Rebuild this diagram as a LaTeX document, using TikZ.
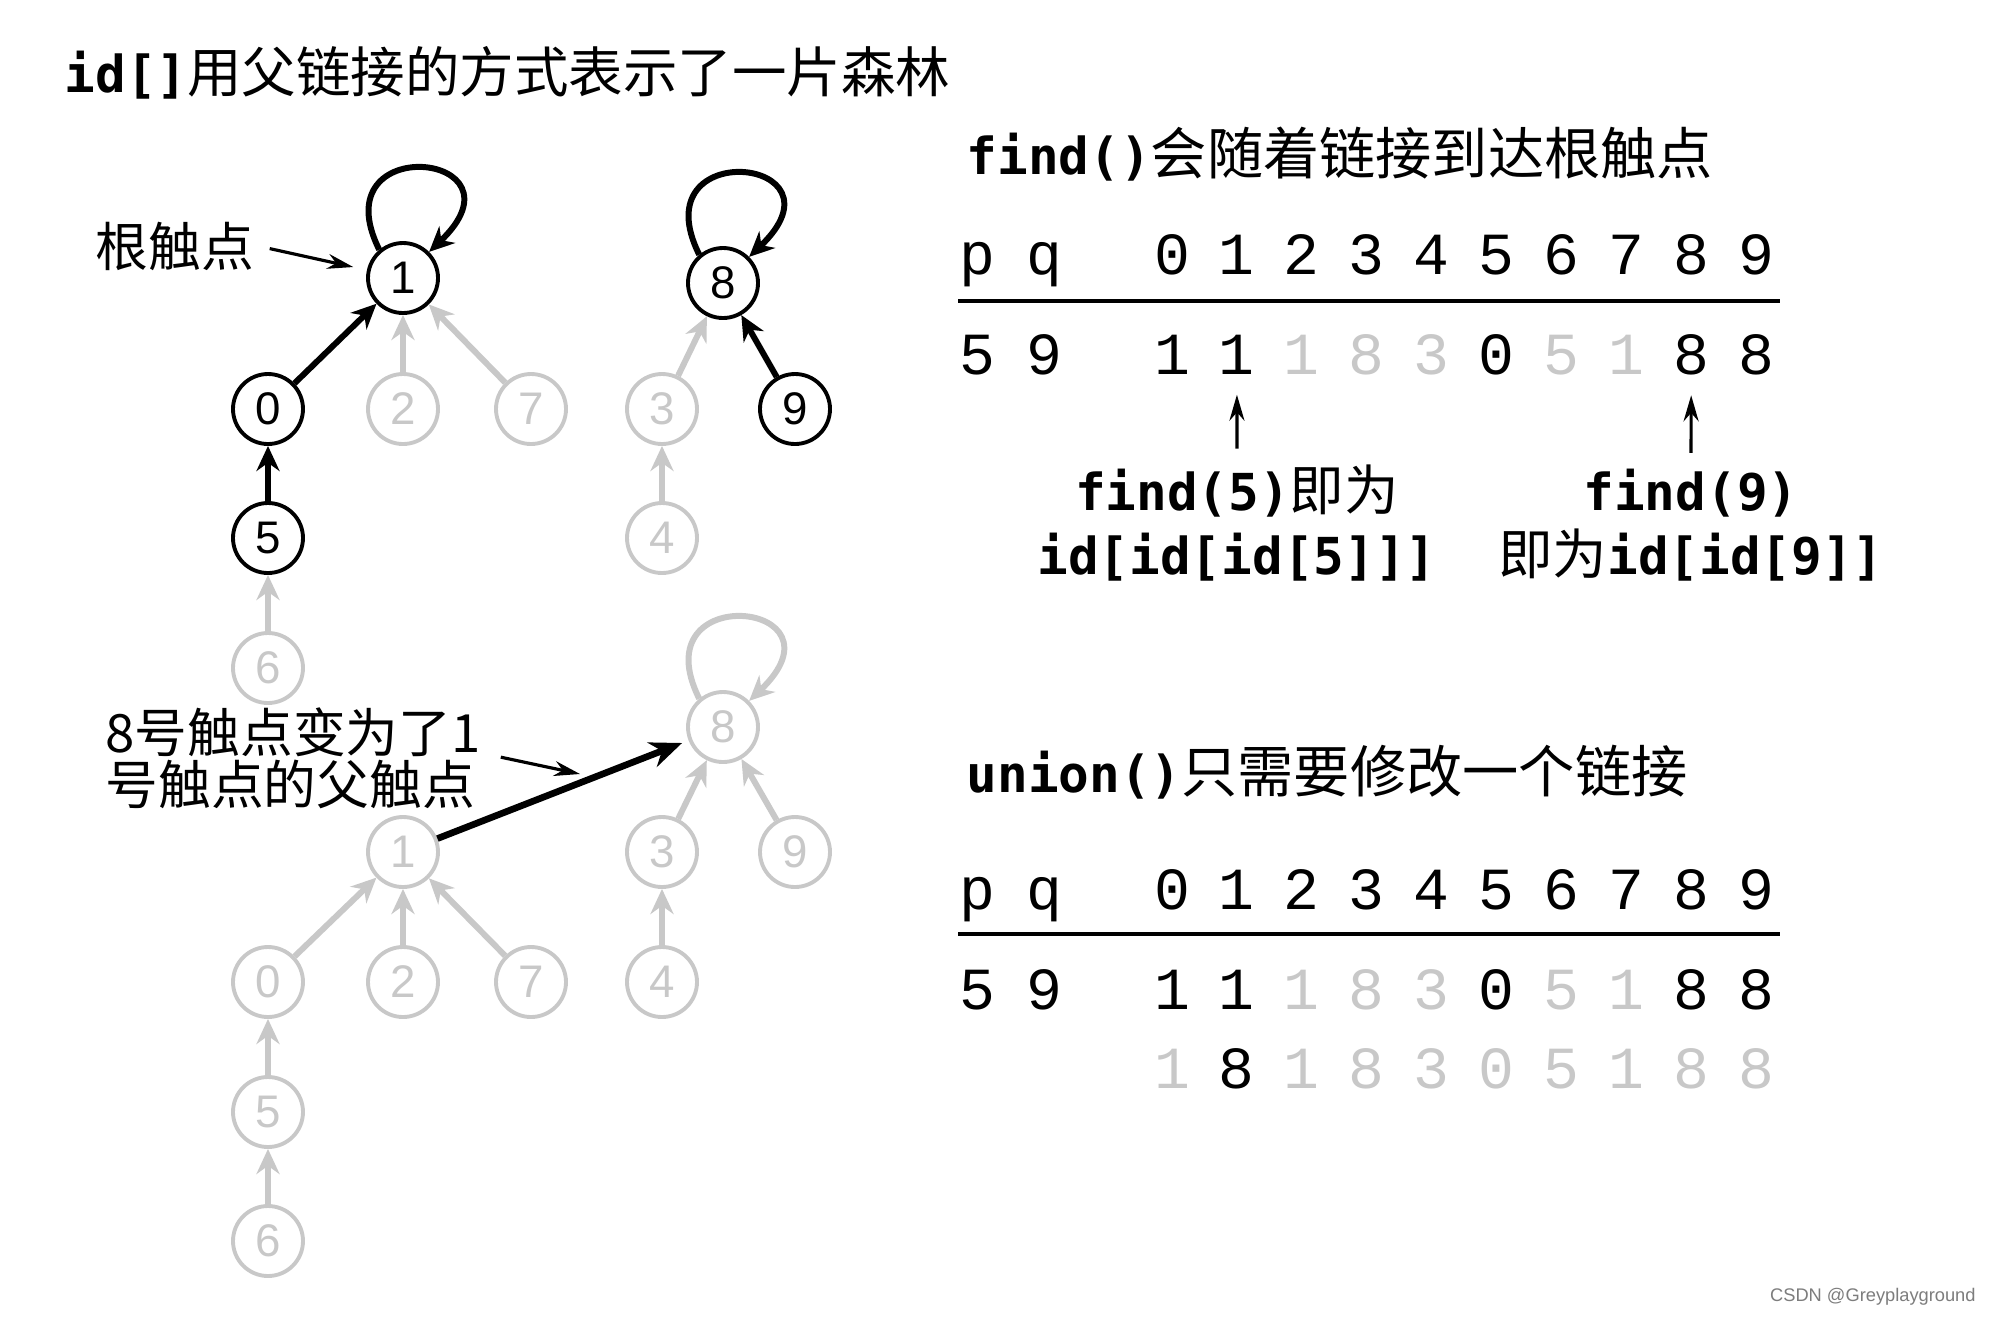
\documentclass[tikz,border=0pt]{standalone}
\usepackage{fontspec}
\setmainfont{Liberation Sans}
\newfontfamily\cjk{Noto Sans CJK SC}
\newfontfamily\codefont{DejaVu Sans Mono}
\newfontfamily\digitfont{Liberation Mono}
\definecolor{lite}{RGB}{200,200,200}
\definecolor{wmark}{RGB}{125,125,125}
\usetikzlibrary{arrows.meta, positioning}
\newcommand{\code}[1]{{\codefont\bfseries\fontsize{14.5}{17}\selectfont #1}}

\begin{document}
\begin{tikzpicture}[
  vtx/.style={circle, draw, line width=1.1pt, minimum size=7mm, inner sep=0pt, font=\fontsize{13}{13}\selectfont},
  dim/.style={draw=lite, text=lite},
  lnk/.style={-{Stealth[length=2.5mm,width=2.3mm]}, line width=1.7pt},
  dimlnk/.style={lnk, draw=lite},
  note/.style={-{Stealth[length=2.6mm,width=1.5mm]}, line width=0.9pt},
  lbl/.style={inner sep=1pt, font=\cjk\fontsize{15}{13}\selectfont},
  head/.style={anchor=base west, inner sep=0pt, font=\cjk\fontsize{16}{20}\selectfont},
  sub/.style={anchor=base, inner sep=0pt, font=\cjk\fontsize{15.5}{18}\selectfont},
  cell/.style={anchor=base, inner sep=0pt, font=\digitfont\fontsize{17}{17}\selectfont},
  rule/.style={line width=1.3pt}
]
  \fill[white] (0,0) rectangle (20,-13.16);

  % titles
  \node[anchor=base west, inner sep=0pt, font=\cjk\fontsize{15.5}{18}\selectfont] (ttl) at (0.64,-0.92)
    {\code{id[]}用父链接的方式表示了一片森林};
  \node[head] (findttl) at (9.66,-1.74) {\code{find()}会随着链接到达根触点};
  \node[head] (unionttl) at (9.66,-7.92) {\code{union()}只需要修改一个链接};

  % forest before union
  \node[vtx] (a1) at (4.03,-2.78) {1};
  \node[vtx] (a0) at (2.68,-4.09) {0};
  \node[vtx, dim] (a2) at (4.03,-4.09) {2};
  \node[vtx, dim] (a7) at (5.31,-4.09) {7};
  \node[vtx] (a5) at (2.68,-5.38) {5};
  \node[vtx, dim] (a6) at (2.68,-6.68) {6};
  \node[vtx] (a8) at (7.23,-2.83) {8};
  \node[vtx, dim] (a3) at (6.62,-4.09) {3};
  \node[vtx] (a9) at (7.95,-4.09) {9};
  \node[vtx, dim] (a4) at (6.62,-5.38) {4};

  \draw[lnk] (a1.130) .. controls +(-0.6,1.2) and +(1.05,1.0) .. (a1.45);
  \draw[lnk] (a8.130) .. controls +(-0.6,1.2) and +(1.05,1.0) .. (a8.45);
  \draw[lnk] (a0) -- (a1);
  \draw[dimlnk] (a2) -- (a1);
  \draw[dimlnk] (a7) -- (a1);
  \draw[lnk] (a5) -- (a0);
  \draw[dimlnk] (a6) -- (a5);
  \draw[dimlnk] (a3) -- (a8);
  \draw[lnk] (a9) -- (a8);
  \draw[dimlnk] (a4) -- (a3);

  % forest after union
  \node[vtx, dim] (b8) at (7.23,-7.27) {8};
  \node[vtx, dim] (b1) at (4.03,-8.52) {1};
  \node[vtx, dim] (b3) at (6.62,-8.52) {3};
  \node[vtx, dim] (b9) at (7.95,-8.52) {9};
  \node[vtx, dim] (b0) at (2.68,-9.82) {0};
  \node[vtx, dim] (b2) at (4.03,-9.82) {2};
  \node[vtx, dim] (b7) at (5.31,-9.82) {7};
  \node[vtx, dim] (b4) at (6.62,-9.82) {4};
  \node[vtx, dim] (b5) at (2.68,-11.12) {5};
  \node[vtx, dim] (b6) at (2.68,-12.41) {6};

  \draw[dimlnk] (b8.130) .. controls +(-0.6,1.2) and +(1.05,1.0) .. (b8.45);
  \draw[dimlnk] (b3) -- (b8);
  \draw[dimlnk] (b9) -- (b8);
  \draw[dimlnk] (b0) -- (b1);
  \draw[dimlnk] (b2) -- (b1);
  \draw[dimlnk] (b7) -- (b1);
  \draw[dimlnk] (b4) -- (b3);
  \draw[dimlnk] (b5) -- (b0);
  \draw[dimlnk] (b6) -- (b5);
  \draw[lnk, line width=1.9pt, -{Stealth[length=3.2mm,width=2.6mm]}, shorten >=0.7mm] (b1) -- (b8);

  % callouts
  \node[lbl, anchor=east] (rootlbl) at (2.58,-2.46) {根触点};
  \draw[note, shorten <=1.2mm, shorten >=1.4mm] (rootlbl.east) -- (a1);
  \node[lbl, anchor=west, align=left, inner sep=0pt] (unionlbl) at (1.05,-7.58) {8号触点变为了1\\号触点的父触点};
  \coordinate (unionpt) at (5.80,-7.74);
  \draw[note, shorten <=2mm] ([yshift=0.5mm]unionlbl.east) -- (unionpt);

  % find() table
  \node[cell] (fp) at (9.77,-2.74) {p};
  \node[cell] (fq) at (10.44,-2.74) {q};
  \foreach \n in {0,...,9}
    \node[cell] (fh\n) at ({11.72+0.649*\n},-2.74) {\n};
  \draw[rule] (9.58,-3.01) -- (17.80,-3.01);
  \node[cell] (fr5) at (9.77,-3.74) {5};
  \node[cell] (fr9) at (10.44,-3.74) {9};
  \foreach \val/\col [count=\i from 0] in {1/black,1/black,1/lite,8/lite,3/lite,0/black,5/lite,1/lite,8/black,8/black}
    \node[cell, text=\col] (fa\i) at ({11.72+0.649*\i},-3.74) {\val};

  \node[sub] (f5a) at (12.37,-5.10) {\code{find(5)}即为};
  \node[sub] (f5b) at (12.37,-5.74) {\code{id[id[id[5]]]}};
  \node[sub] (f9a) at (16.91,-5.10) {\code{find(9)}};
  \node[sub] (f9b) at (16.91,-5.74) {即为\code{id[id[9]]}};
  \draw[note, shorten <=1.5mm, shorten >=2mm] (f5a.north) -- (fa1.south);
  \draw[note, shorten <=1.5mm, shorten >=2mm] (f9a.north) -- (fa8.south);

  % union() table
  \node[cell] (up) at (9.77,-9.09) {p};
  \node[cell] (uq) at (10.44,-9.09) {q};
  \foreach \n in {0,...,9}
    \node[cell] (uh\n) at ({11.72+0.649*\n},-9.09) {\n};
  \draw[rule] (9.58,-9.34) -- (17.80,-9.34);
  \node[cell] (ur5) at (9.77,-10.09) {5};
  \node[cell] (ur9) at (10.44,-10.09) {9};
  \foreach \val/\col [count=\i from 0] in {1/black,1/black,1/lite,8/lite,3/lite,0/black,5/lite,1/lite,8/black,8/black}
    \node[cell, text=\col] (ua\i) at ({11.72+0.649*\i},-10.09) {\val};
  \foreach \val/\col [count=\i from 0] in {1/lite,8/black,1/lite,8/lite,3/lite,0/lite,5/lite,1/lite,8/lite,8/lite}
    \node[cell, text=\col] (ub\i) at ({11.72+0.649*\i},-10.88) {\val};

  \node[anchor=east, text=wmark, font=\fontsize{5.2}{6}\selectfont] (wm) at (19.88,-12.97) {CSDN @Greyplayground};
\end{tikzpicture}
\end{document}
